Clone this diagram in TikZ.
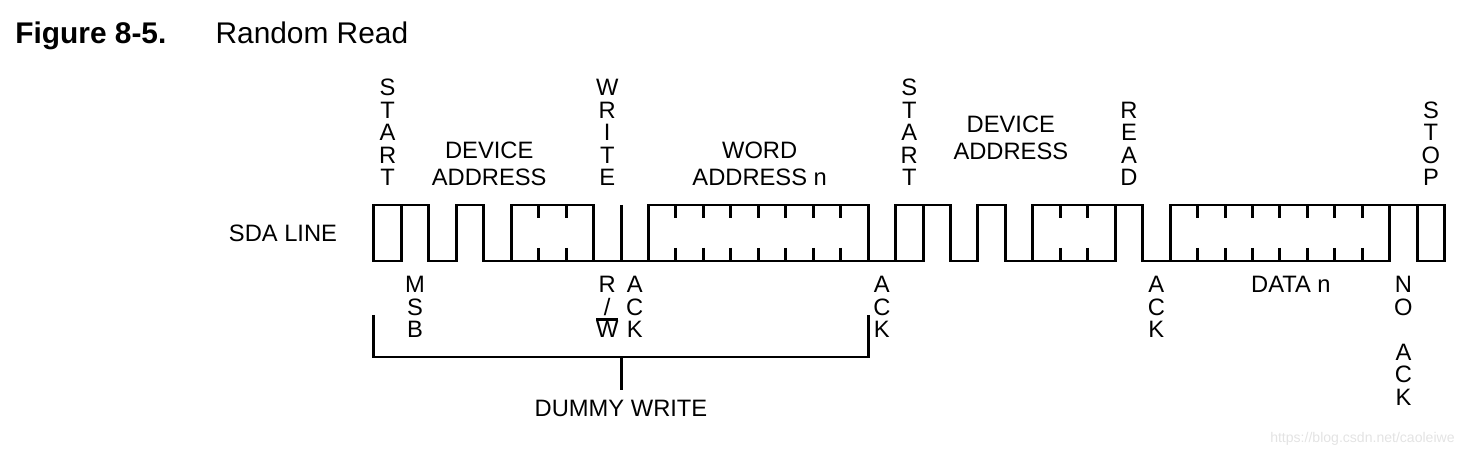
\documentclass[tikz,border=0pt]{standalone}
\usepackage{fontspec}
\setmainfont{Liberation Sans}
\usepackage{tikz}
\usetikzlibrary{positioning}

\newcommand{\barW}{\vbox{\hrule height 1.5pt\kern0.4pt\hbox{W}}}

\begin{document}
\begin{tikzpicture}[
    x=0.02cm, y=-0.02cm,
    every node/.style={inner sep=0pt, font=\fontsize{13.5}{15.4}\selectfont},
    vlab/.style={align=center, font=\fontsize{13.5}{12.8}\selectfont},
    hlab/.style={align=center},
    titlefont/.style={font=\fontsize{17}{20}\selectfont},
    wave/.style={line width=1.7pt},
    bitmark/.style={line width=1.7pt}
]
\useasboundingbox (0,0) rectangle (1465,455);

% title
\node[titlefont, anchor=base west, font=\fontsize{17}{20}\selectfont\bfseries] (fig) at (15,44) {Figure 8-5.};
\node[titlefont, base right=0.97cm of fig] (title) {Random Read};

\node[anchor=base] (sda) at (283,242) {SDA LINE};

% waveform, one unit = one bit
\begin{scope}[xshift=7.48cm, x=0.5492cm]
\draw[wave] (1,205) -- (1,261) -- (0,261) -- (0,205) -- (2,205) -- (2,261) -- (3,261)
    -- (3,205) -- (4,205) -- (4,261) -- (20,261) -- (20,205);
\draw[wave] (19,261) -- (19,205) -- (21,205) -- (21,261) -- (22,261) -- (22,205)
    -- (23,205) -- (23,261) -- (27,261) -- (27,205) -- (28,205) -- (28,261)
    -- (37,261) -- (37,205) -- (39,205) -- (39,261) -- (38,261) -- (38,205);
\draw[wave] (5,261) -- (5,205) -- (8,205) -- (8,261);
\draw[wave] (9,205) -- (9,261);
\draw[wave] (10,261) -- (10,205) -- (18,205) -- (18,261);
\draw[wave] (24,261) -- (24,205) -- (27,205);
\draw[wave] (29,261) -- (29,205) -- (37,205);
\foreach \b in {6,7,11,12,13,14,15,16,17,25,26,30,31,32,33,34,35,36}
    \draw[bitmark] (\b,205) -- (\b,218) (\b,248) -- (\b,261);

% labels above
\node[vlab, anchor=south] (start1) at (0.5,186) {S\\T\\A\\R\\T};
\node[hlab, anchor=south] (devaddr1) at (4.2,186) {DEVICE\\ADDRESS};
\node[vlab, anchor=south] (write) at (8.5,186) {W\\R\\I\\T\\E};
\node[hlab, anchor=south] (wordaddr) at (14.05,186) {WORD\\ADDRESS n};
\node[vlab, anchor=south] (start2) at (19.5,186) {S\\T\\A\\R\\T};
\node[hlab, anchor=south] (devaddr2) at (23.2,160) {DEVICE\\ADDRESS};
\node[vlab, anchor=south] (read) at (27.5,186) {R\\E\\A\\D};
\node[vlab, anchor=south] (stop) at (38.5,186) {S\\T\\O\\P};

% labels below
\node[vlab, anchor=north] (msb) at (1.5,276) {M\\S\\B};
\node[vlab, anchor=north] (rw) at (8.5,276) {R\\/\\\barW};
\node[vlab, anchor=north] (ack1) at (9.5,276) {A\\C\\K};
\node[vlab, anchor=north] (ack2) at (18.5,276) {A\\C\\K};
\node[vlab, anchor=north] (ack3) at (28.5,276) {A\\C\\K};
\node[anchor=north] (datan) at (33.4,276) {DATA n};
\node[vlab, anchor=north] (noack) at (37.5,276) {N\\O\\\mbox{}\\A\\C\\K};

% dummy write bracket
\coordinate (brk) at (9,357);
\draw[wave] (0,315) -- (0,357) -- (18,357) -- (18,315);
\node (dummy) at (9,408) {DUMMY WRITE};
\draw[wave, shorten >=0.18cm] (brk) -- (dummy.north);
\end{scope}

\node[anchor=base east, text=gray!22, font=\fontsize{8}{10}\selectfont] (wm) at (1455,443) {https://blog.csdn.net/caoleiwe};
\end{tikzpicture}
\end{document}
